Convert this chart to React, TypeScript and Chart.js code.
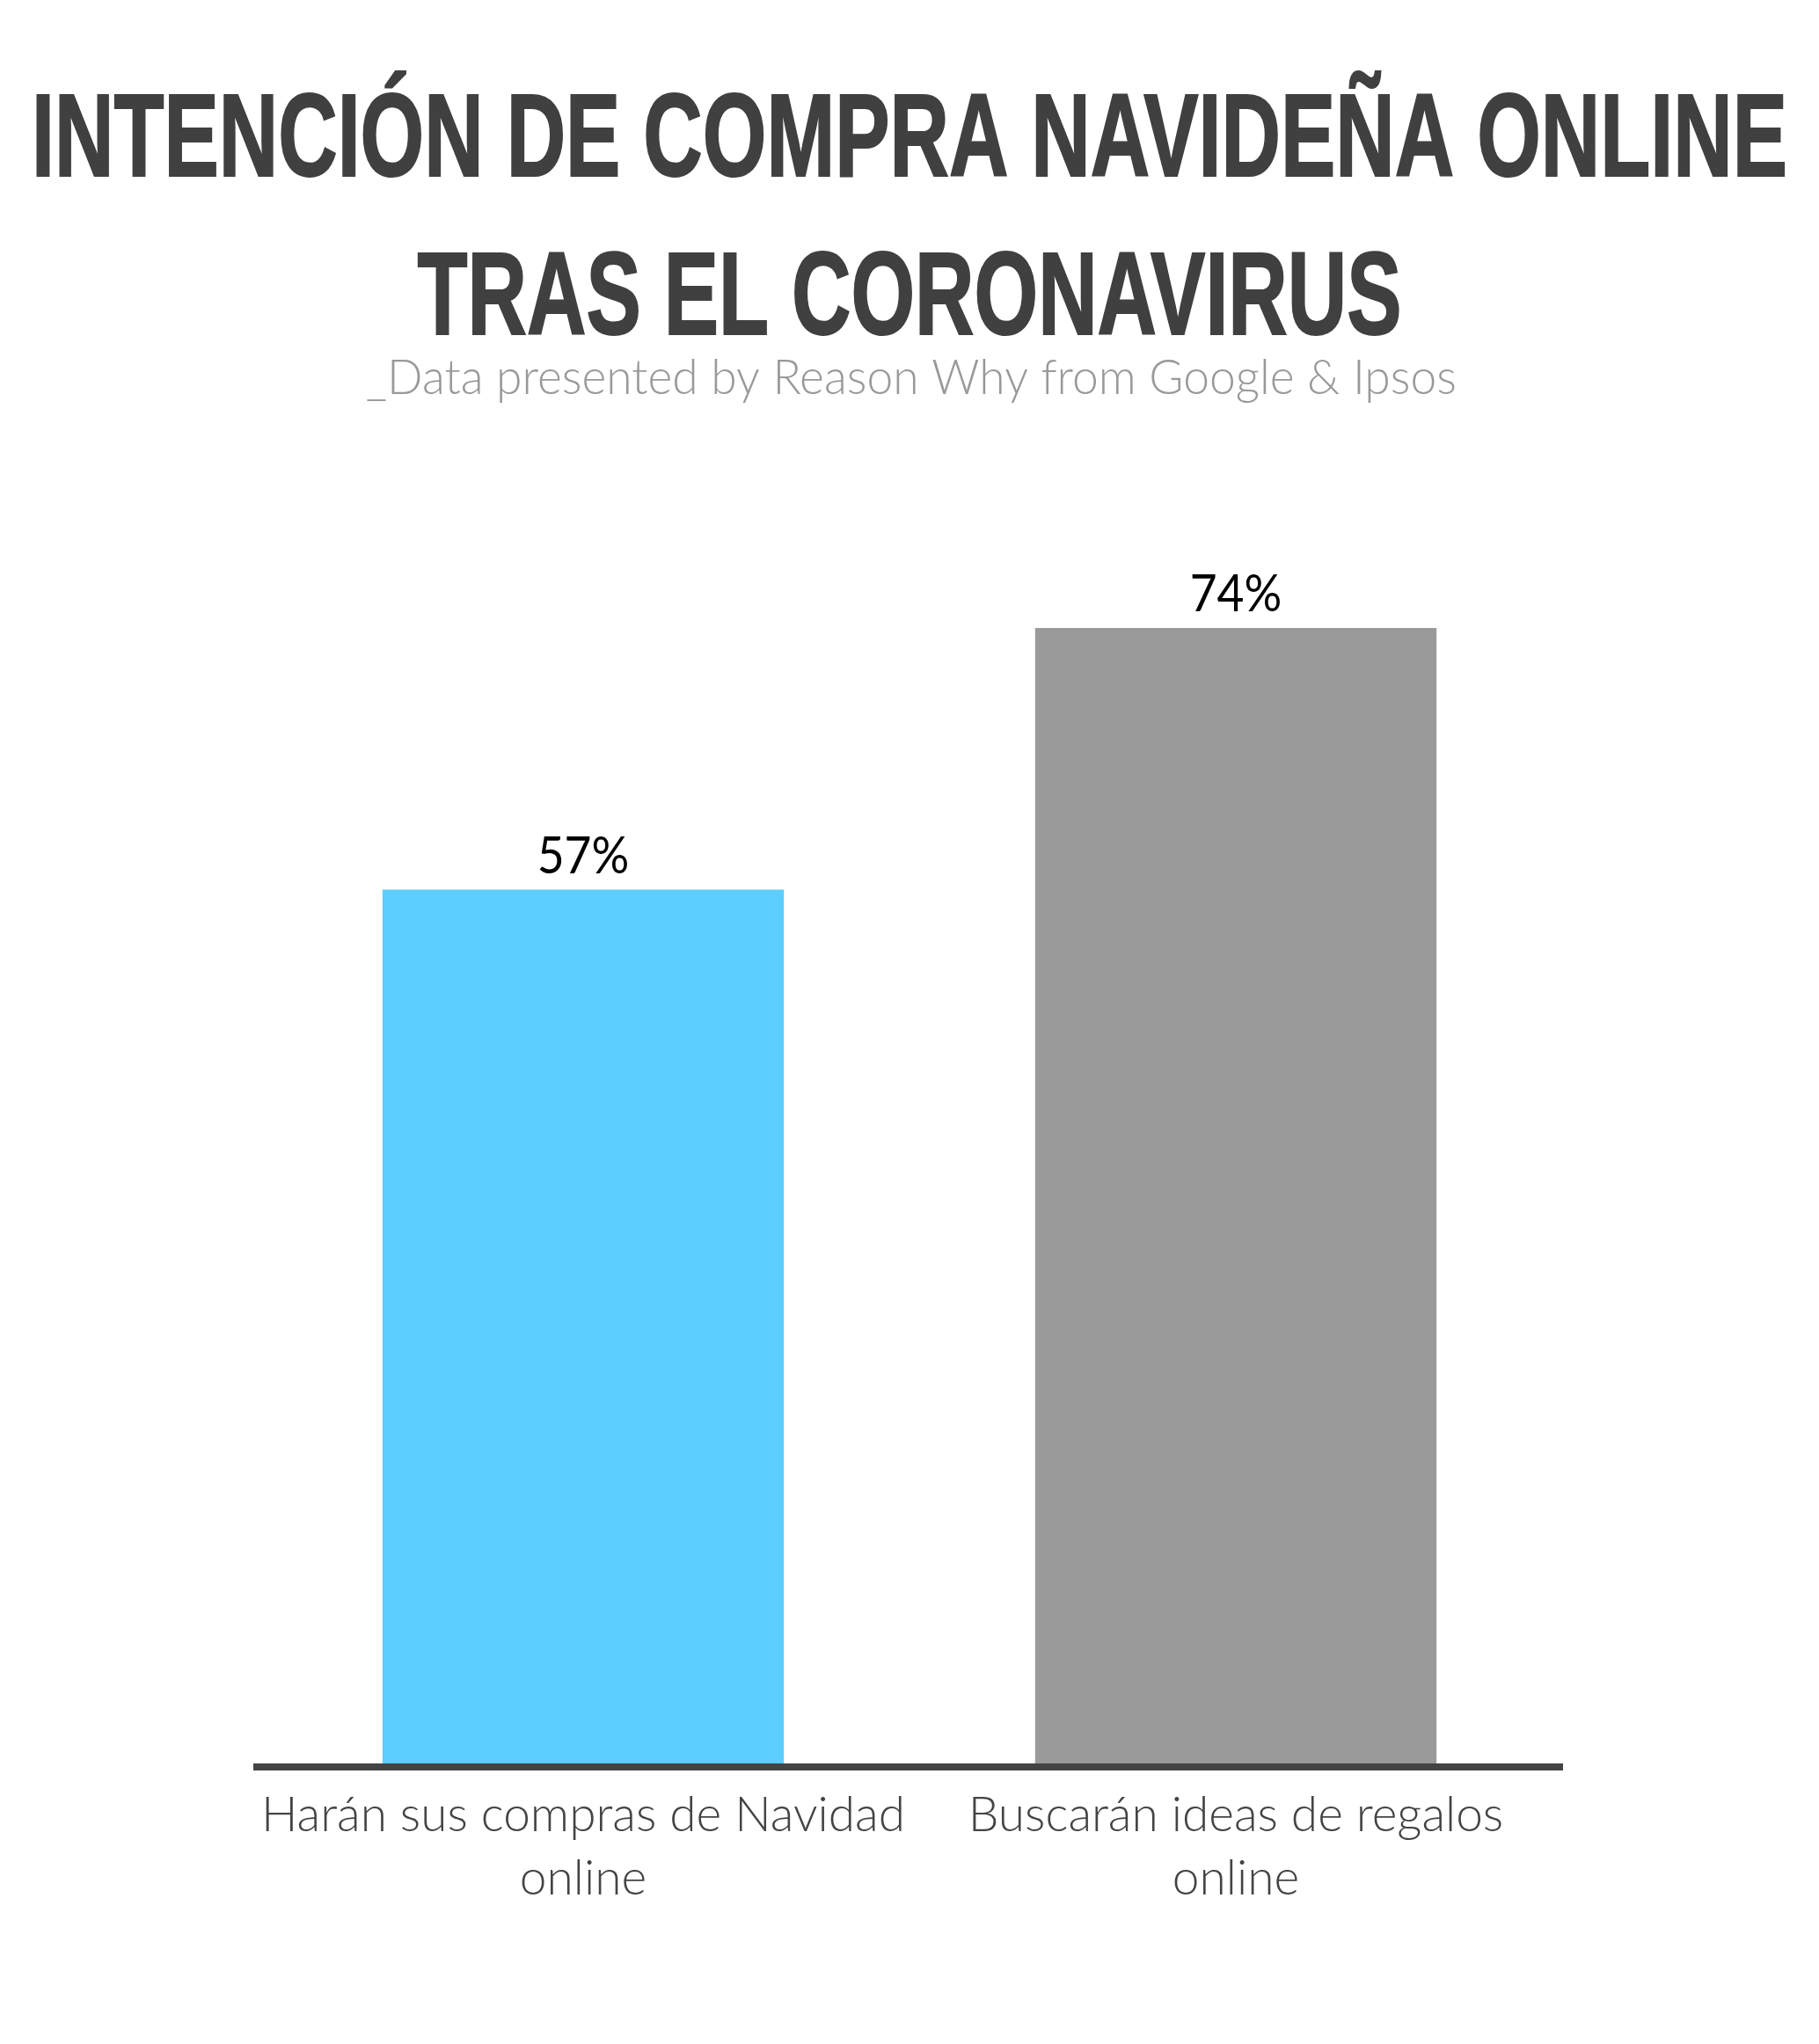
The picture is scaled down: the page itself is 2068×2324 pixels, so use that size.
import { useEffect, useRef } from "react";
import { Chart, registerables } from "chart.js";

Chart.register(...registerables);

const TITLE_LINES = ["INTENCIÓN DE COMPRA NAVIDEÑA ONLINE", "TRAS EL CORONAVIRUS"];
const SUBTITLE = "_Data presented by Reason Why from Google & Ipsos";
const CATEGORIES = [
  ["Harán sus compras de Navidad", "online"],
  ["Buscarán ideas de regalos", "online"],
];
const VALUES = [57, 74];
const VALUE_LABELS = ["57%", "74%"];
const BAR_COLORS = ["#5BCDFE", "#9A9A9A"];
const Y_MAX = 80;

const headerPlugin = {
  id: "header",
  afterDraw(chart: any) {
    const ctx = chart.ctx as CanvasRenderingContext2D;
    ctx.save();
    ctx.fillStyle = "#404040";
    ctx.strokeStyle = "#404040";
    ctx.lineWidth = 2;
    ctx.lineJoin = "miter";
    ctx.font = 'bold 133px "Liberation Sans Narrow", "Liberation Sans", sans-serif';
    ctx.textAlign = "center";
    ctx.textBaseline = "alphabetic";
    const w0 = ctx.measureText(TITLE_LINES[0]).width;
    const sx = 1996 / w0;
    const cx = 1034;
    const baselines = [200, 380];
    TITLE_LINES.forEach((t, i) => {
      ctx.save();
      ctx.translate(cx, baselines[i]);
      ctx.scale(sx, 1);
      ctx.fillText(t, 0, 0);
      ctx.strokeText(t, 0, 0);
      ctx.restore();
    });
    ctx.fillStyle = "#999999";
    ctx.font = '300 56px Lato, "Open Sans", sans-serif';
    const ws = ctx.measureText(SUBTITLE).width;
    ctx.save();
    ctx.translate(1036, 448);
    ctx.scale(Math.min(1, 1240 / ws), 1);
    ctx.fillText(SUBTITLE, 0, 0);
    ctx.restore();
    ctx.restore();
  },
};

const valueLabelPlugin = {
  id: "valueLabels",
  afterDatasetsDraw(chart: any) {
    const ctx = chart.ctx as CanvasRenderingContext2D;
    const meta = chart.getDatasetMeta(0);
    ctx.save();
    ctx.fillStyle = "#000000";
    ctx.font = '400 58px Lato, "Open Sans", sans-serif';
    ctx.textAlign = "center";
    ctx.textBaseline = "alphabetic";
    meta.data.forEach((el: any, i: number) => {
      ctx.save();
      ctx.translate(el.x, el.y - 19);
      ctx.scale(0.92, 1);
      ctx.fillText(VALUE_LABELS[i], 0, 0);
      ctx.restore();
    });
    ctx.restore();
  },
};

export default function App() {
  const ref = useRef<HTMLCanvasElement>(null);
  useEffect(() => {
    const chart = new Chart(ref.current as HTMLCanvasElement, {
      type: "bar",
      data: {
        labels: CATEGORIES,
        datasets: [
          {
            data: VALUES,
            backgroundColor: BAR_COLORS,
            borderWidth: 0,
            barPercentage: 0.615,
            categoryPercentage: 1,
          },
        ],
      },
      options: {
        animation: false,
        responsive: false,
        devicePixelRatio: 1,
        layout: { padding: { top: 609, left: 292, right: 292, bottom: 133 } },
        plugins: {
          legend: { display: false },
          title: { display: false },
          tooltip: { enabled: false },
        },
        scales: {
          x: {
            z: 1,
            grid: { display: false, drawTicks: false },
            border: { display: true, color: "#444444", width: 8, z: 1 },
            ticks: {
              color: "#444444",
              padding: 19,
              autoSkip: false,
              maxRotation: 0,
              minRotation: 0,
              font: { family: "Lato", size: 55, weight: "300", lineHeight: 72 / 55 },
            },
            afterFit(scale: any) {
              scale.paddingLeft = 0;
              scale.paddingRight = 0;
            },
          },
          y: {
            display: false,
            min: 0,
            max: Y_MAX,
          },
        },
      },
      plugins: [headerPlugin, valueLabelPlugin],
    } as any);
    return () => chart.destroy();
  }, []);
  return (
    <div style={{ position: "absolute", left: 0, top: 0, width: 2068, height: 2324, background: "#ffffff" }}>
      <canvas ref={ref} width={2068} height={2324} style={{ display: "block", width: 2068, height: 2324 }} />
    </div>
  );
}
